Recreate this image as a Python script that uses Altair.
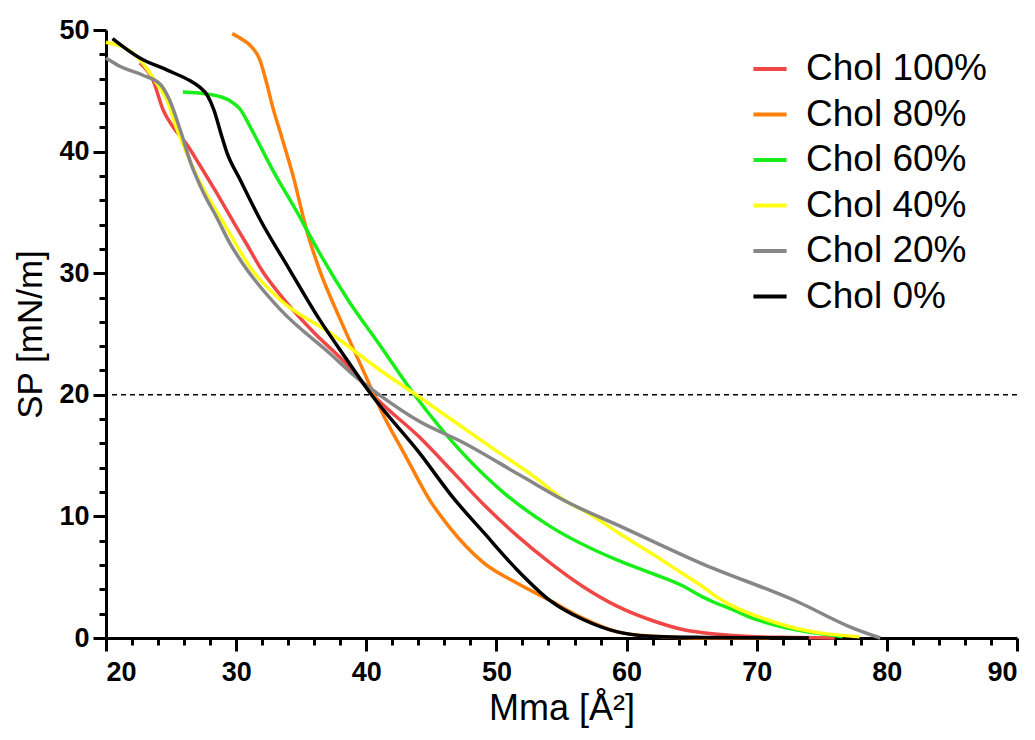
import altair as alt
import pandas as pd

series = ["Chol 100%", "Chol 80%", "Chol 60%", "Chol 40%", "Chol 20%", "Chol 0%"]
colors = ["#f04646", "#ff7f0a", "#1aee1a", "#ffff14", "#878787", "#000000"]

x_100 = [22.6, 23.6, 24.4, 25.1, 26.2, 27.2, 28.5, 29.8, 30.8, 32.0, 33.4, 35.9, 38.5, 40.5, 44.1, 46.7, 49.0, 51.6, 54.1, 56.7, 59.3, 61.8, 64.3, 67.0, 70.0, 73.0, 76.0]
y_100 = [47.3, 45.9, 43.4, 42.1, 40.6, 38.9, 36.6, 34.2, 32.4, 30.2, 28.2, 25.2, 22.5, 20.0, 16.5, 13.6, 11.0, 8.4, 6.2, 4.2, 2.6, 1.5, 0.7, 0.3, 0.1, 0.05, 0.0]

x_80 = [29.7, 30.5, 31.2, 31.8, 32.3, 32.8, 33.5, 34.4, 35.4, 36.4, 38.0, 40.1, 41.1, 43.0, 44.9, 46.4, 49.0, 51.6, 54.1, 56.7, 59.3, 61.3, 64.0, 68.0, 71.0]
y_80 = [49.7, 49.2, 48.6, 47.6, 45.8, 43.7, 41.2, 37.9, 33.6, 30.3, 26.2, 21.2, 18.8, 15.0, 11.3, 9.1, 6.2, 4.5, 3.1, 1.6, 0.5, 0.2, 0.05, 0.0, 0.0]

x_60 = [25.9, 28.0, 29.5, 30.3, 31.1, 32.8, 34.9, 35.4, 38.6, 41.1, 43.7, 47.4, 50.5, 54.1, 59.3, 62.0, 64.3, 65.8, 66.8, 68.0, 69.5, 72.0, 74.6, 76.6]
y_60 = [44.9, 44.7, 44.2, 43.5, 42.0, 38.5, 34.6, 33.6, 27.8, 24.0, 20.0, 15.2, 12.0, 9.2, 6.4, 5.3, 4.3, 3.4, 2.9, 2.4, 1.7, 0.9, 0.4, 0.1]

x_40 = [20.0, 22.1, 22.8, 23.9, 24.7, 25.4, 26.5, 27.7, 29.0, 31.2, 33.4, 37.2, 41.1, 44.1, 49.3, 53.1, 55.4, 57.0, 59.3, 62.0, 64.3, 65.6, 66.9, 68.2, 70.8, 73.0, 75.0, 77.9]
y_40 = [49.0, 48.1, 47.3, 45.6, 44.2, 42.0, 39.1, 36.5, 34.2, 30.3, 27.8, 25.1, 22.0, 19.8, 15.9, 13.1, 11.2, 10.3, 8.7, 6.9, 5.3, 4.4, 3.4, 2.6, 1.5, 0.8, 0.4, 0.1]

x_20 = [20.0, 21.1, 22.8, 24.2, 24.9, 25.7, 26.5, 27.5, 28.5, 29.5, 30.5, 33.4, 37.2, 39.5, 41.0, 44.1, 47.4, 51.8, 55.4, 59.5, 65.6, 73.3, 77.2, 79.5]
y_20 = [47.7, 47.0, 46.3, 45.5, 44.2, 41.8, 39.1, 36.6, 34.6, 32.5, 30.8, 27.0, 23.4, 21.2, 20.0, 17.8, 16.1, 13.4, 11.2, 9.2, 6.2, 2.9, 0.9, 0.0]

x_0 = [20.5, 22.6, 24.7, 26.5, 27.2, 27.8, 28.3, 28.8, 29.3, 30.3, 31.8, 34.1, 36.4, 38.5, 40.4, 44.1, 46.7, 49.0, 51.6, 54.1, 56.7, 59.3, 61.8, 66.0, 70.0, 74.0]
y_0 = [49.3, 47.7, 46.7, 45.8, 45.3, 44.6, 43.4, 41.6, 39.9, 37.7, 34.5, 30.3, 26.2, 22.9, 20.0, 15.2, 11.5, 8.7, 5.6, 3.1, 1.5, 0.5, 0.15, 0.05, 0.02, 0.0]

ref_level = [20]

xs_all = [x_100, x_80, x_60, x_40, x_20, x_0]
ys_all = [y_100, y_80, y_60, y_40, y_20, y_0]

rows = []
for name, xs, ys in zip(series, xs_all, ys_all):
    for i, (a, b) in enumerate(zip(xs, ys)):
        rows.append({"series": name, "mma": a, "sp": b, "idx": i})
df = pd.DataFrame(rows)

FONT = "Liberation Sans"

x_axis = alt.Axis(
    values=list(range(20, 91, 2)),
    labelExpr="datum.value % 10 === 0 ? datum.label : ''",
    tickSize={"condition": {"test": "datum.value % 10 === 0", "value": 13}, "value": 7},
    tickWidth=3, tickColor="black", domainWidth=3, domainColor="black",
    labelFont=FONT, labelFontWeight="bold", labelFontSize=27, labelColor="black",
    labelPadding=8, labelOverlap=False, grid=False,
    title="Mma [Å²]", titleFont=FONT, titleFontSize=36, titleFontWeight="normal",
    titleColor="black", titlePadding=6,
)
y_axis = alt.Axis(
    values=list(range(0, 51, 2)),
    labelExpr="datum.value % 10 === 0 ? datum.label : ''",
    tickSize={"condition": {"test": "datum.value % 10 === 0", "value": 13}, "value": 7},
    tickWidth=3, tickColor="black", domainWidth=3, domainColor="black",
    labelFont=FONT, labelFontWeight="bold", labelFontSize=27, labelColor="black",
    labelPadding=4, labelOverlap=False, grid=False,
    title="SP [mN/m]", titleFont=FONT, titleFontSize=35, titleFontWeight="normal",
    titleColor="black", titlePadding=10,
)

xs = alt.Scale(domain=[20, 90], nice=False, zero=False)
ys = alt.Scale(domain=[0, 50], nice=False)

rule = alt.Chart(pd.DataFrame({"sp": ref_level})).mark_rule(
    strokeDash=[5, 4], color="black", strokeWidth=1.5
).encode(y=alt.Y("sp:Q", scale=ys, axis=y_axis))

lines = alt.Chart(df).mark_line(strokeWidth=3.5, interpolate="monotone").encode(
    x=alt.X("mma:Q", scale=xs, axis=x_axis),
    y=alt.Y("sp:Q", scale=ys, axis=y_axis),
    color=alt.Color(
        "series:N",
        scale=alt.Scale(domain=series, range=colors),
        legend=alt.Legend(
            title=None, orient="none", legendX=645, legendY=20,
            symbolType="stroke", symbolStrokeWidth=4, symbolSize=1100,
            labelFont=FONT, labelFontSize=37, labelColor="black",
            labelOffset=17, rowPadding=8.5, labelLimit=400,
        ),
    ),
    order=alt.Order("idx:Q"),
    detail="series:N",
)

chart = alt.layer(rule, lines).properties(
    width=911, height=608,
    autosize=alt.AutoSizeParams(type="none"),
    padding={"left": 98, "top": 22, "right": 10, "bottom": 100},
    background="white",
).configure_view(stroke=None)

chart.save("out.html", embed_options={"renderer": "svg", "actions": False})
